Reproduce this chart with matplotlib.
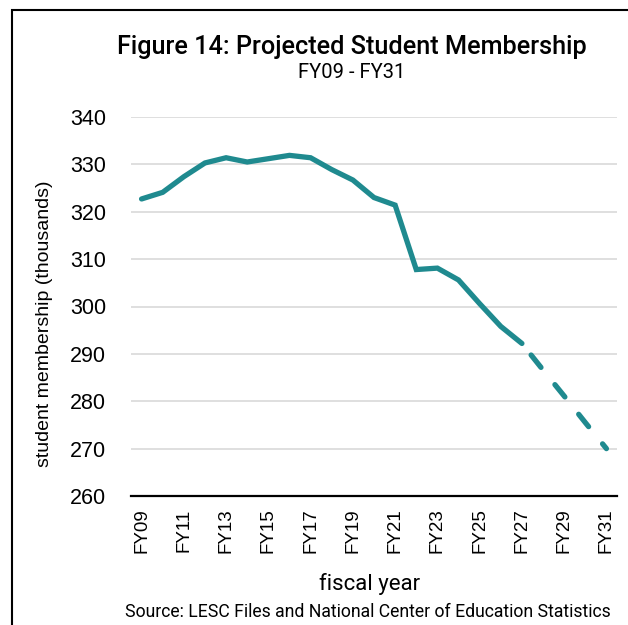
import matplotlib.pyplot as plt
from matplotlib.patches import Rectangle

# fiscal years FY09..FY31 and membership in thousands
years = ['FY%02d' % y for y in range(9, 32)]
actual = [322.7, 324.1, 327.4, 330.3, 331.4, 330.5, 331.2, 331.9, 331.4,
          328.9, 326.7, 323.0, 321.4, 307.8, 308.1, 305.6, 300.6, 295.8, 292.2]
projected = [292.2, 286.6, 281.1, 275.5, 270.0]

teal = '#1f8a8f'
head = ['Roboto', 'DejaVu Sans']
plt.rcParams['font.family'] = ['Liberation Sans', 'DejaVu Sans']

fig = plt.figure(figsize=(6.28, 6.25), dpi=100)
ax = fig.add_axes([131 / 628, 1 - 496 / 625, (617 - 131) / 628, (496 - 117) / 625])

x_act = list(range(len(actual)))
x_proj = list(range(len(actual) - 1, len(actual) - 1 + len(projected)))
ax.plot(x_act, actual, color=teal, lw=3.8, solid_capstyle='round', solid_joinstyle='miter')
ax.plot(x_proj, projected, color=teal, lw=3.8, linestyle=(4.4, (3, 4.2)),
        dash_capstyle='round')

ax.set_xlim(-0.5, len(years) - 0.5)
ax.set_ylim(260, 340)
ax.set_yticks(range(260, 341, 10))
ax.set_xticks(range(0, len(years), 2))
ax.set_xticklabels(years[::2], rotation=90, fontsize=13.5)
ax.tick_params(axis='y', length=0, pad=18, labelsize=15.5)
ax.tick_params(axis='x', length=0, pad=9)
ax.grid(axis='y', color='#d9d9d9', lw=1.2)
ax.set_axisbelow(True)
for s in ['top', 'right', 'left']:
    ax.spines[s].set_visible(False)
ax.spines['bottom'].set_linewidth(1.6)
ax.spines['bottom'].set_zorder(1)

ax.set_ylabel('student membership (thousands)', fontsize=14)
ax.yaxis.set_label_coords(-(131 - 53) / 486, (496 - 324) / 379)
ax.set_xlabel('fiscal year', fontsize=16, family=head)
ax.xaxis.set_label_coords((370 - 131) / 486, -(573 - 496) / 379)

fig.text(352 / 628, 1 - 47 / 625, 'Figure 14: Projected Student Membership',
         ha='center', va='center', fontsize=18.2, family=head, weight='medium')
fig.text(352 / 628, 1 - 73 / 625, 'FY09 - FY31', ha='center', va='center',
         fontsize=14.5, family=head)
fig.text(368 / 628, 1 - 612 / 625,
         'Source: LESC Files and National Center of Education Statistics',
         ha='center', va='center', fontsize=12.7, family=head)

fig.patches.append(Rectangle((12 / 628, -0.1), 1.2, 1 - 10 / 625 + 0.1,
                             transform=fig.transFigure, fill=False,
                             edgecolor='black', lw=1.5))

fig.savefig('out.png', dpi=100)
